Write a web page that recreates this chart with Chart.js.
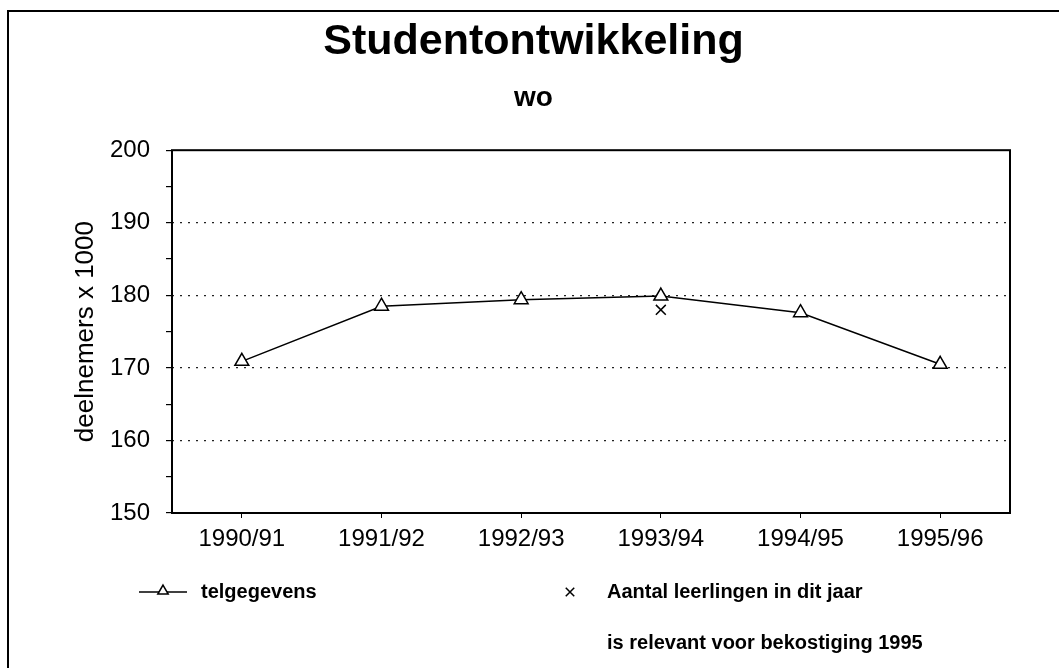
<!DOCTYPE html>
<html>
<head>
<meta charset="utf-8">
<script src="https://cdn.jsdelivr.net/npm/chart.js@4/dist/chart.umd.min.js"></script>
<style>
  html, body { margin: 0; padding: 0; background: #fff; }
  #wrap { width: 1059px; height: 668px; }
</style>
</head>
<body>
<div id="wrap"><canvas id="studentChart"></canvas></div>
<script>
// data
const categories = ["1990/91", "1991/92", "1992/93", "1993/94", "1994/95", "1995/96"];
const telgegevens = [170.9, 178.5, 179.4, 179.9, 177.6, 170.5];
const bekostiging = [null, null, null, 178.0, null, null];
const yMin = 150, yMax = 200, yStep = 10;

const FONT = "'Liberation Sans', Arial, sans-serif";

// outer frame, plot box and the legend underneath
const framePlugin = {
    id: 'frame',
    beforeDraw: function(chart) {
        const ctx = chart.ctx;
        ctx.save();
        ctx.fillStyle = '#fff';
        ctx.fillRect(0, 0, chart.width, chart.height);
        ctx.strokeStyle = '#000';
        ctx.lineWidth = 2;
        ctx.beginPath();
        ctx.moveTo(8, chart.height);
        ctx.lineTo(8, 11);
        ctx.lineTo(chart.width, 11);
        ctx.stroke();
        ctx.restore();
    },
    afterDraw: function(chart) {
        const ctx = chart.ctx;
        const a = chart.chartArea;
        ctx.save();
        ctx.strokeStyle = '#000';
        ctx.lineWidth = 2;
        ctx.strokeRect(a.left, a.top, a.right - a.left, a.bottom - a.top);

        // legend
        const ds = chart.data.datasets;
        const drawPoint = Chart.helpers && Chart.helpers.drawPoint;
        let y = 592;

        // telgegevens
        ctx.lineWidth = 1.5;
        ctx.beginPath();
        ctx.moveTo(139, y);
        ctx.lineTo(187, y);
        ctx.stroke();
        if (drawPoint) {
            ctx.fillStyle = '#fff';
            drawPoint(ctx, {pointStyle: ds[0].pointStyle, radius: 6, borderWidth: 1.5, rotation: 0}, 163, y - 1);
        }

        // Aantal leerlingen ...
        if (drawPoint) {
            drawPoint(ctx, {pointStyle: ds[1].pointStyle, radius: 6, borderWidth: 1.5, rotation: 0}, 570, y);
        }

        ctx.font = "bold 20px " + FONT;
        ctx.fillStyle = '#000';
        ctx.textBaseline = 'middle';
        ctx.textAlign = 'left';
        ctx.fillText(ds[0].label, 201, y);
        const lines = ds[1].label;
        ctx.fillText(lines[0], 607, y);
        ctx.fillText(lines[1], 607, y + 51);
        ctx.restore();
    }
};

new Chart(document.getElementById('studentChart'), {
    type: 'line',
    data: {
        labels: categories,
        datasets: [{
            label: 'telgegevens',
            data: telgegevens,
            borderColor: '#000',
            borderWidth: 1.5,
            backgroundColor: '#fff',
            pointStyle: 'triangle',
            pointRadius: 8,
            pointBorderWidth: 1.5,
            pointBackgroundColor: '#fff',
            pointBorderColor: '#000',
            tension: 0
        }, {
            label: ['Aantal leerlingen in dit jaar', 'is relevant voor bekostiging 1995'],
            data: bekostiging,
            showLine: false,
            borderColor: '#000',
            pointStyle: 'crossRot',
            pointRadius: 7,
            pointBorderWidth: 1.5,
            pointBorderColor: '#000'
        }]
    },
    options: {
        responsive: true,
        maintainAspectRatio: false,
        animation: false,
        layout: { padding: { left: 8, right: 0, top: 0, bottom: 105 } },
        plugins: {
            legend: { display: false },
            tooltip: { enabled: false },
            title: {
                display: true,
                text: 'Studentontwikkeling',
                color: '#000',
                font: { family: FONT, size: 43, weight: 'bold', lineHeight: 1.2 },
                padding: { top: 16, bottom: 14 }
            },
            subtitle: {
                display: true,
                text: 'wo',
                color: '#000',
                font: { family: FONT, size: 28, weight: 'bold', lineHeight: 1.2 },
                padding: { top: 0, bottom: 35 }
            }
        },
        scales: {
            x: {
                offset: true,
                border: { display: false },
                grid: {
                    offset: false,
                    drawOnChartArea: false,
                    tickLength: 5,
                    tickColor: '#000'
                },
                ticks: {
                    color: '#000',
                    padding: 7,
                    maxRotation: 0,
                    font: { family: FONT, size: 24 }
                },
                afterFit: function(scale) { scale.height = 50; }
            },
            y: {
                min: yMin,
                max: yMax,
                border: { display: false, dash: [2, 6] },
                grid: {
                    color: function(c) {
                        const v = c.tick ? c.tick.value : 0;
                        return (v % yStep === 0 && v > yMin && v < yMax) ? '#222' : 'rgba(0,0,0,0)';
                    },
                    lineWidth: 1.2,
                    tickColor: '#000',
                    tickLength: 6
                },
                ticks: {
                    stepSize: yStep / 2,
                    color: '#000',
                    padding: 16,
                    font: { family: FONT, size: 24 },
                    callback: function(v) { return v % yStep === 0 ? v : ''; }
                },
                title: {
                    display: true,
                    text: 'deelnemers x 1000',
                    color: '#000',
                    font: { family: FONT, size: 26 },
                    padding: { top: 62, bottom: 0 }
                },
                afterFit: function(scale) { scale.width = 164; }
            },
            // empty right axis only to keep the space right of the plot
            yRight: {
                position: 'right',
                min: yMin,
                max: yMax,
                border: { display: false },
                grid: { drawOnChartArea: false, drawTicks: false },
                ticks: { display: false },
                afterFit: function(scale) { scale.width = 49; }
            }
        }
    },
    plugins: [framePlugin]
});
</script>
</body>
</html>
